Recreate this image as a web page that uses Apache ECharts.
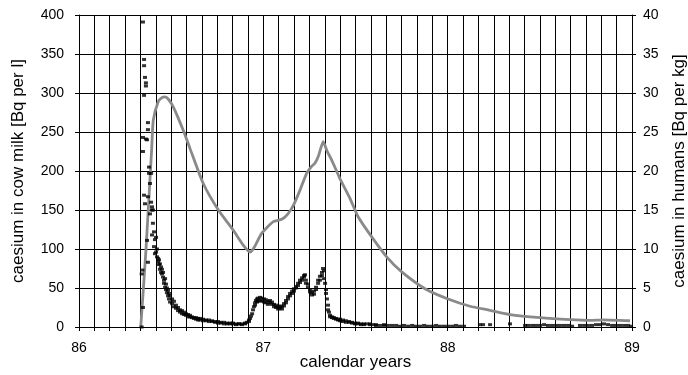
<!DOCTYPE html>
<html>
<head>
<meta charset="utf-8">
<script src="https://cdn.jsdelivr.net/npm/echarts@6/dist/echarts.min.js"></script>
<style>
html,body{margin:0;padding:0;background:#fff;}
#c{width:688px;height:375px;}
</style>
</head>
<body>
<div id="c"></div>
<script>
// x-axis: calendar years
const xMin = 86, xMax = 89;
const xTicks = [86, 87, 88, 89];
const leftTicks = [0, 50, 100, 150, 200, 250, 300, 350, 400];
const rightTicks = [0, 5, 10, 15, 20, 25, 30, 35, 40];

// caesium in cow milk [Bq per l]: [decimal year, value]
const milk = [
[86.340,0],[86.340,68],[86.344,73],[86.347,25],[86.347,225],[86.347,391],[86.347,243],
[86.353,343],[86.353,335],[86.353,297],[86.353,169],[86.358,320],[86.358,158],
[86.363,313],[86.363,309],[86.363,241],[86.369,240],[86.369,111],
[86.374,262],[86.374,253],[86.374,167],[86.374,83],[86.380,205],[86.380,197],
[86.385,145],[86.385,184],[86.391,160],[86.391,197],[86.396,154],[86.396,118],[86.396,150],
[86.401,133],[86.401,150],[86.407,103],[86.407,122],[86.412,94],[86.412,112],
[86.418,115],[86.418,96],[86.423,100],[86.423,90],[86.429,88],[86.429,84],
[86.434,86],[86.434,80],[86.439,81],[86.439,74],[86.445,77],[86.445,70],
[86.450,68],[86.450,74],[86.456,64],[86.456,70],[86.461,60],[86.461,56],
[86.467,62],[86.467,51],[86.472,55],[86.472,48],[86.477,50],[86.477,44],
[86.483,47],[86.483,40],[86.488,43],[86.488,36],[86.494,40],[86.494,32],
[86.505,36],[86.505,30],[86.515,33],[86.515,26],[86.526,28],[86.526,24],
[86.537,25],[86.537,21],[86.548,22],[86.548,19],[86.559,21],[86.559,17],
[86.570,19],[86.570,16],[86.580,17],[86.580,15],[86.591,16],[86.591,13],
[86.602,15],[86.602,13],[86.613,13],[86.613,12],[86.624,12],[86.624,11],
[86.635,12],[86.635,10],[86.646,11],[86.646,9],[86.656,11],[86.656,9],
[86.673,10],[86.673,8],[86.689,9],[86.689,8],[86.705,9],[86.705,7],
[86.722,8],[86.722,7],[86.738,7],[86.738,6],[86.754,7],[86.754,5],
[86.770,6],[86.770,5],[86.787,6],[86.787,4],[86.803,5],[86.803,4],
[86.819,5],[86.819,4],[86.835,5],[86.835,4],[86.852,4],[86.852,3],
[86.868,4],[86.868,4],[86.884,4],[86.884,3],[86.901,5],[86.901,4],
[86.911,6],[86.922,9],[86.922,7],[86.928,11],[86.933,14],[86.939,17],
[86.944,22],[86.949,26],[86.955,31],[86.955,28],[86.960,34],[86.966,36],[86.966,32],
[86.971,37],[86.971,33],[86.982,38],[86.982,34],[86.993,37],[86.993,33],
[87.004,36],[87.004,32],[87.014,35],[87.014,31],[87.025,33],[87.025,29],
[87.036,31],[87.036,34],[87.047,32],[87.047,29],[87.058,29],[87.058,26],
[87.069,28],[87.069,25],[87.080,26],[87.080,23],[87.090,24],[87.090,27],
[87.101,23],[87.101,26],[87.112,27],[87.112,30],[87.123,31],[87.123,34],
[87.134,36],[87.134,39],[87.145,40],[87.145,43],[87.156,43],[87.156,46],
[87.166,46],[87.166,49],[87.177,50],[87.177,52],[87.188,53],[87.188,56],
[87.199,57],[87.199,60],[87.210,60],[87.210,63],[87.221,64],[87.221,66],
[87.226,67],[87.231,60],[87.231,56],[87.242,55],[87.242,51],[87.253,48],[87.253,45],
[87.264,44],[87.264,41],[87.275,46],[87.275,42],[87.286,51],[87.286,48],
[87.297,56],[87.297,60],[87.307,60],[87.307,65],[87.318,70],[87.318,66],
[87.324,75],[87.329,72],[87.329,62],[87.335,56],[87.340,48],[87.340,43],
[87.345,36],[87.351,28],[87.351,22],[87.356,19],[87.362,15],[87.362,13],
[87.373,13],[87.373,12],[87.383,12],[87.383,11],[87.394,11],[87.394,10],
[87.405,10],[87.405,9],[87.416,10],[87.416,8],[87.432,9],[87.432,7],
[87.448,8],[87.448,6],[87.465,7],[87.465,6],[87.481,6],[87.481,5],
[87.497,5],[87.497,4],[87.514,5],[87.514,4],[87.530,4],[87.530,3],
[87.546,4],[87.546,3],[87.562,4],[87.579,3],[87.579,4],[87.595,3],
[87.611,3],[87.611,2],[87.633,2],[87.655,3],[87.655,2],[87.676,2],
[87.698,2],[87.720,2],[87.741,1],[87.763,2],[87.785,1],[87.807,2],
[87.828,1],[87.850,1],[87.872,2],[87.893,1],[87.915,1],[87.937,2],
[87.958,1],[87.980,1],[88.002,1],[88.024,1],[88.045,2],[88.067,1],
[88.089,1],[88.175,3],[88.192,3],[88.230,3],[88.338,4],
[88.420,2],[88.436,2],[88.458,2],[88.479,2],[88.501,2],[88.523,3],
[88.544,2],[88.566,2],[88.588,2],[88.609,2],[88.631,2],[88.653,2],
[88.675,1],[88.718,2],[88.740,2],[88.761,2],[88.783,2],[88.805,3],
[88.826,3],[88.848,4],[88.870,3],[88.892,2],[88.913,2],[88.935,2],
[88.957,2],[88.978,2],[88.995,1]
];

// caesium in humans [Bq per kg]: [decimal year, value]
const humans = [
[86.335,0],[86.363,9.8],[86.394,22.7],[86.403,26.5],[86.430,28.9],[86.450,29.4],
[86.467,29.5],[86.485,29.2],[86.512,28.2],[86.566,25.2],[86.602,22.9],[86.674,18.4],
[86.756,15.0],[86.837,12.4],[86.891,10.5],[86.928,9.6],[86.950,10.2],[86.991,12.0],
[87.054,13.5],[87.100,13.8],[87.130,14.4],[87.163,15.6],[87.199,17.55],[87.235,19.7],
[87.262,20.6],[87.280,21.0],[87.300,22.0],[87.325,23.75],[87.345,22.6],[87.371,21.4],
[87.416,19.0],[87.470,16.5],[87.515,14.1],[87.588,11.55],[87.669,9.0],[87.751,7.06],
[87.877,4.9],[87.995,3.65],[88.121,2.66],[88.230,2.14],[88.338,1.6],[88.501,1.2],
[88.664,0.95],[88.772,0.85],[88.844,0.92],[88.989,0.8]
];

const FONT = 'Liberation Sans, Arial, sans-serif';
const chart = echarts.init(document.getElementById('c'), null, {renderer: 'canvas'});
chart.setOption({
  animation: false,
  backgroundColor: '#fff',
  grid: {left: 79, right: 56, top: 15, bottom: 48, containLabel: false, outerBoundsMode: 'none'},
  xAxis: {
    type: 'value', min: xMin, max: xMax, interval: 1,
    name: 'calendar years', nameLocation: 'middle', nameGap: 27, nameMoveOverlap: false,
    nameTextStyle: {fontFamily: FONT, fontSize: 17, color: '#000'},
    axisLine: {show: true, onZero: false, lineStyle: {color: '#000', width: 1}},
    axisTick: {show: true, length: 4, lineStyle: {color: '#000'}},
    minorTick: {show: true, splitNumber: 12, length: 4, lineStyle: {color: '#000'}},
    axisLabel: {fontFamily: FONT, fontSize: 14, color: '#000', margin: 14,
      formatter: v => xTicks.includes(v) ? String(v) : ''},
    splitLine: {show: true, lineStyle: {color: '#000', width: 1}},
    minorSplitLine: {show: true, lineStyle: {color: '#000', width: 1}}
  },
  yAxis: [{
    type: 'value', min: leftTicks[0], max: leftTicks[leftTicks.length-1], interval: 50,
    name: 'caesium in cow milk [Bq per l]', nameLocation: 'middle', nameGap: 52,
    nameTextStyle: {fontFamily: FONT, fontSize: 17, color: '#000'},
    axisLine: {show: true, lineStyle: {color: '#000', width: 1}},
    axisTick: {show: true, length: 4, lineStyle: {color: '#000'}},
    axisLabel: {fontFamily: FONT, fontSize: 14, color: '#000', margin: 15},
    splitLine: {show: true, lineStyle: {color: '#000', width: 1}}
  }, {
    type: 'value', min: rightTicks[0], max: rightTicks[rightTicks.length-1], interval: 5,
    position: 'right',
    name: 'caesium in humans [Bq per kg]', nameLocation: 'middle', nameGap: 39,
    nameRotate: 90,
    nameTextStyle: {fontFamily: FONT, fontSize: 17, color: '#000'},
    axisLine: {show: true, lineStyle: {color: '#000', width: 1}},
    axisTick: {show: true, length: 4, lineStyle: {color: '#000'}},
    axisLabel: {fontFamily: FONT, fontSize: 14, color: '#000', margin: 11},
    splitLine: {show: false}
  }],
  series: [{
    name: 'humans', type: 'line', yAxisIndex: 1, data: humans,
    showSymbol: false, symbol: 'none', smooth: 0.2,
    lineStyle: {color: '#8a8a8a', width: 2.8}, z: 2
  }, {
    name: 'milk', type: 'scatter', yAxisIndex: 0, data: milk,
    symbol: 'rect', symbolSize: [4, 3],
    itemStyle: {color: '#000'}, z: 3
  }]
});
</script>
</body>
</html>
